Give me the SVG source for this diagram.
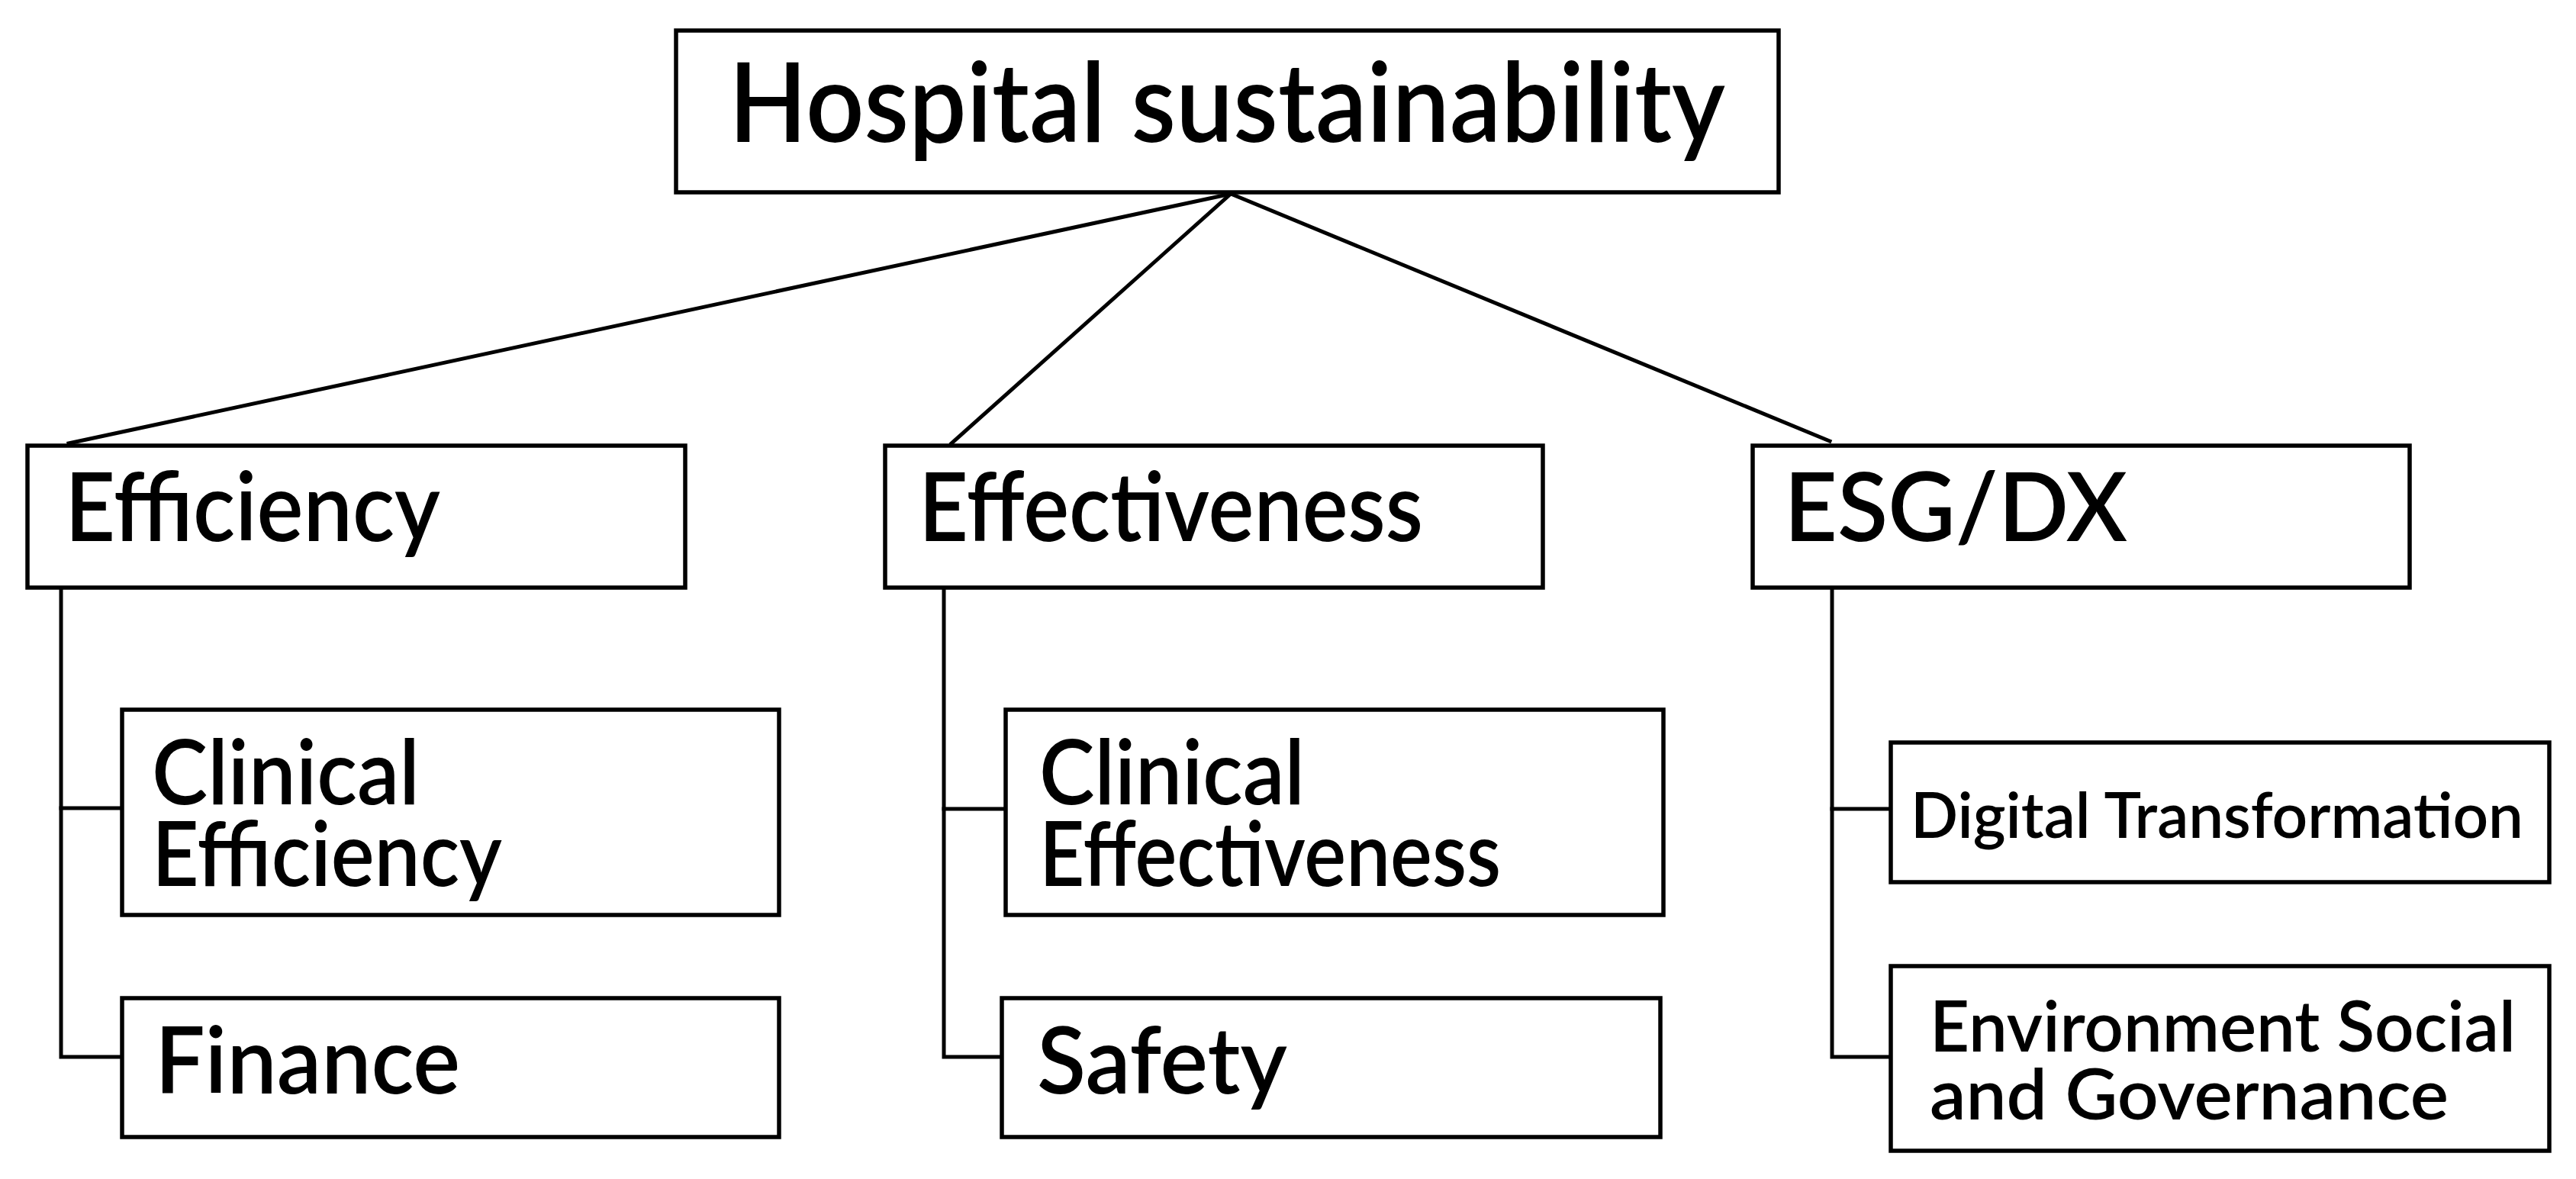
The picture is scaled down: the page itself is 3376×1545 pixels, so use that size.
<svg xmlns="http://www.w3.org/2000/svg" width="3376" height="1545" viewBox="0 0 3376 1545">
<style>
.box{fill:#fff;stroke:#000;stroke-width:5.5}
.t{font-family:Lato,"Liberation Sans",sans-serif;font-weight:600;fill:#000}
.con{stroke:#000;stroke-width:5;fill:none;stroke-linecap:square}
</style>
<rect width="3376" height="1545" fill="#fff"/>
<g id="connectors">
<line class="con" x1="1613" y1="254" x2="90" y2="581"/>
<line class="con" x1="1613" y1="254" x2="1247" y2="581"/>
<line class="con" x1="1613" y1="254" x2="2398" y2="578"/>
<polyline class="con" points="80,774 80,1385 157,1385"/>
<line class="con" x1="80" y1="1059" x2="157" y2="1059"/>
<polyline class="con" points="1237,774 1237,1385 1310,1385"/>
<line class="con" x1="1237" y1="1060" x2="1316" y2="1060"/>
<polyline class="con" points="2401,774 2401,1385 2476,1385"/>
<line class="con" x1="2401" y1="1060" x2="2476" y2="1060"/>
</g>
<g id="hospital-sustainability">
<rect class="box" x="886" y="40" width="1445" height="212"/>
<text class="t" x="955" y="186" font-size="144" textLength="1306" lengthAdjust="spacingAndGlyphs">Hospital sustainability</text>
</g>
<g id="efficiency">
<rect class="box" x="36" y="584" width="862" height="186"/>
<text class="t" x="85" y="709" font-size="125" textLength="492" lengthAdjust="spacingAndGlyphs">Efficiency</text>
</g>
<g id="effectiveness">
<rect class="box" x="1160" y="584" width="862" height="186"/>
<text class="t" x="1204" y="709" font-size="125" textLength="661" lengthAdjust="spacingAndGlyphs">Effectiveness</text>
</g>
<g id="esg-dx">
<rect class="box" x="2297" y="584" width="861" height="186"/>
<text class="t" x="2338" y="709" font-size="125" textLength="450" lengthAdjust="spacingAndGlyphs">ESG/DX</text>
</g>
<g id="clinical-efficiency">
<rect class="box" x="160" y="930" width="861" height="269"/>
<text class="t" x="199" y="1054" font-size="118" textLength="351" lengthAdjust="spacingAndGlyphs">Clinical</text>
<text class="t" x="199" y="1161" font-size="118" textLength="459" lengthAdjust="spacingAndGlyphs">Efficiency</text>
</g>
<g id="finance">
<rect class="box" x="160" y="1308" width="861" height="182"/>
<text class="t" x="203" y="1433" font-size="122" textLength="400" lengthAdjust="spacingAndGlyphs">Finance</text>
</g>
<g id="clinical-effectiveness">
<rect class="box" x="1318" y="930" width="862" height="269"/>
<text class="t" x="1362" y="1054" font-size="118" textLength="348" lengthAdjust="spacingAndGlyphs">Clinical</text>
<text class="t" x="1362" y="1161" font-size="118" textLength="605" lengthAdjust="spacingAndGlyphs">Effectiveness</text>
</g>
<g id="safety">
<rect class="box" x="1313" y="1308" width="863" height="182"/>
<text class="t" x="1359" y="1433" font-size="122" textLength="328" lengthAdjust="spacingAndGlyphs">Safety</text>
</g>
<g id="digital-transformation">
<rect class="box" x="2478" y="973" width="863" height="183"/>
<text class="t" x="2504" y="1098" font-size="83" textLength="803" lengthAdjust="spacingAndGlyphs">Digital Transformation</text>
</g>
<g id="environment-social-governance">
<rect class="box" x="2478" y="1266" width="863" height="242"/>
<text class="t" x="2529" y="1378" font-size="93" textLength="768" lengthAdjust="spacingAndGlyphs">Environment Social</text>
<text class="t" x="2529" y="1467" font-size="93" textLength="680" lengthAdjust="spacingAndGlyphs">and Governance</text>
</g>
</svg>
